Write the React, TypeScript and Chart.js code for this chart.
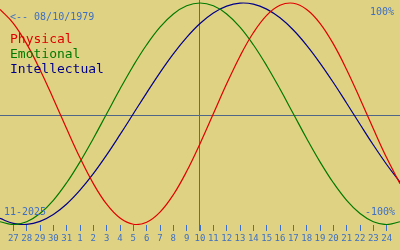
import React, { useEffect, useRef } from "react";
import { Chart, registerables } from "chart.js";

Chart.register(...registerables);

// Days shown: Oct 26 .. Nov 25 (index 0..30)
const DAY_LABELS = [
  "26", "27", "28", "29", "30", "31",
  "1", "2", "3", "4", "5", "6", "7", "8", "9", "10",
  "11", "12", "13", "14", "15", "16", "17", "18", "19", "20",
  "21", "22", "23", "24", "25",
];

const PHYSICAL = [
  0.942, 0.817, 0.631, 0.398, 0.136, -0.136, -0.398, -0.631, -0.817, -0.942,
  -0.998, -0.979, -0.888, -0.731, -0.520, -0.270, 0.0, 0.270, 0.520, 0.731,
  0.888, 0.979, 0.998, 0.942, 0.817, 0.631, 0.398, 0.136, -0.136, -0.398, -0.631,
];

const EMOTIONAL = [
  -0.975, -1.0, -0.975, -0.901, -0.782, -0.623, -0.434, -0.223, 0.0, 0.223,
  0.434, 0.623, 0.782, 0.901, 0.975, 1.0, 0.975, 0.901, 0.782, 0.623,
  0.434, 0.223, 0.0, -0.223, -0.434, -0.623, -0.782, -0.901, -0.975, -1.0, -0.975,
];

const INTELLECTUAL = [
  -0.945, -0.99, -0.999, -0.972, -0.91, -0.815, -0.69, -0.541, -0.372, -0.189,
  0.0, 0.189, 0.372, 0.541, 0.69, 0.815, 0.91, 0.972, 0.999, 0.99,
  0.945, 0.866, 0.756, 0.618, 0.458, 0.282, 0.095, -0.095, -0.282, -0.458, -0.618,
];

const TODAY_INDEX = 15; // Nov 10
const BIRTH_TEXT = "<-- 08/10/1979";
const MONTH_TEXT = "11-2025";
const TOP_TEXT = "100%";
const BOTTOM_TEXT = "-100%";
const SERIES_NAMES = ["Physical", "Emotional", "Intellectual"];

const BG = "#e0d283";
const TEXT_BLUE = "#3d6fc4";
const CENTER_LINE = "#4f6688";
const RED = "#e00000";
const GREEN = "#007a00";
const NAVY = "#00008a";
const MONO = "'DejaVu Sans Mono', monospace";

export default function App() {
  const ref = useRef<HTMLCanvasElement | null>(null);

  useEffect(() => {
    const canvas = ref.current;
    if (!canvas) return;

    const bgPlugin = {
      id: "bg",
      beforeDraw(chart: any) {
        const c = chart.ctx;
        c.save();
        c.fillStyle = BG;
        c.fillRect(0, 0, chart.width, chart.height);
        c.restore();
      },
      beforeDatasetsDraw(chart: any) {
        const c = chart.ctx;
        const xs = chart.scales.x;
        const ys = chart.scales.y;
        c.save();
        // center line
        const cy = Math.round(ys.getPixelForValue(-0.011)) + 0.5;
        c.strokeStyle = CENTER_LINE;
        c.lineWidth = 1;
        c.beginPath();
        c.moveTo(0, cy);
        c.lineTo(chart.width, cy);
        c.stroke();
        // today line
        const tx = Math.round(xs.getPixelForValue(TODAY_INDEX)) - 0.5;
        c.strokeStyle = TEXT_BLUE;
        c.beginPath();
        c.moveTo(tx, 0);
        c.lineTo(tx, chart.chartArea.bottom + 6);
        c.stroke();
        c.restore();
      },
      afterDraw(chart: any) {
        const c = chart.ctx;
        c.save();
        c.textBaseline = "middle";
        c.font = `10px ${MONO}`;
        c.fillStyle = TEXT_BLUE;
        c.textAlign = "left";
        c.fillText(BIRTH_TEXT, 10, 17);
        c.fillText(MONTH_TEXT, 4, 212);
        c.textAlign = "right";
        c.fillText(TOP_TEXT, 394, 12);
        c.fillText(BOTTOM_TEXT, 395, 212);
        c.textAlign = "left";
        c.textBaseline = "alphabetic";
        c.font = `13px ${MONO}`;
        const cols = [RED, GREEN, NAVY];
        SERIES_NAMES.forEach((n, i) => {
          c.fillStyle = cols[i];
          c.fillText(n, 10, 43 + i * 15);
        });
        c.restore();
      },
    };

    const xs = DAY_LABELS.map((_, i) => i);
    const mk = (label: string, data: number[], color: string) => ({
      label,
      data: data.map((v, i) => ({ x: xs[i], y: v })),
      borderColor: color,
      borderWidth: 1.2,
      pointRadius: 0,
      tension: 0.4,
      fill: false,
    });

    const chart = new Chart(canvas, {
      type: "line",
      data: {
        datasets: [
          mk(SERIES_NAMES[0], PHYSICAL, RED),
          mk(SERIES_NAMES[1], EMOTIONAL, GREEN),
          mk(SERIES_NAMES[2], INTELLECTUAL, NAVY),
        ],
      },
      options: {
        animation: false,
        responsive: false,
        layout: { padding: 0 },
        plugins: {
          legend: { display: false },
          tooltip: { enabled: false },
        },
        scales: {
          x: {
            type: "linear",
            min: 0,
            max: 30,
            afterBuildTicks(scale: any) {
              scale.ticks = scale.ticks.filter((t: any) => t.value >= 1 && t.value <= 29);
            },
            afterFit(scale: any) {
              scale.height = 25;
            },
            ticks: {
              stepSize: 1,
              autoSkip: false,
              maxRotation: 0,
              minRotation: 0,
              padding: 2,
              color: TEXT_BLUE,
              font: { family: MONO, size: 9 },
              callback: (v: any) => DAY_LABELS[v as number] ?? "",
            },
            grid: {
              display: true,
              drawOnChartArea: false,
              drawTicks: true,
              tickLength: 6,
              color: TEXT_BLUE,
              lineWidth: 1,
            },
            border: { display: false },
          },
          y: {
            display: false,
            min: -1.0045,
            max: 1.0271,
          },
        },
      },
      plugins: [bgPlugin],
    });

    return () => chart.destroy();
  }, []);

  return (
    <div style={{ position: "absolute", left: 0, top: 0, width: 400, height: 250 }}>
      <canvas ref={ref} width={400} height={250} style={{ display: "block" }} />
    </div>
  );
}
